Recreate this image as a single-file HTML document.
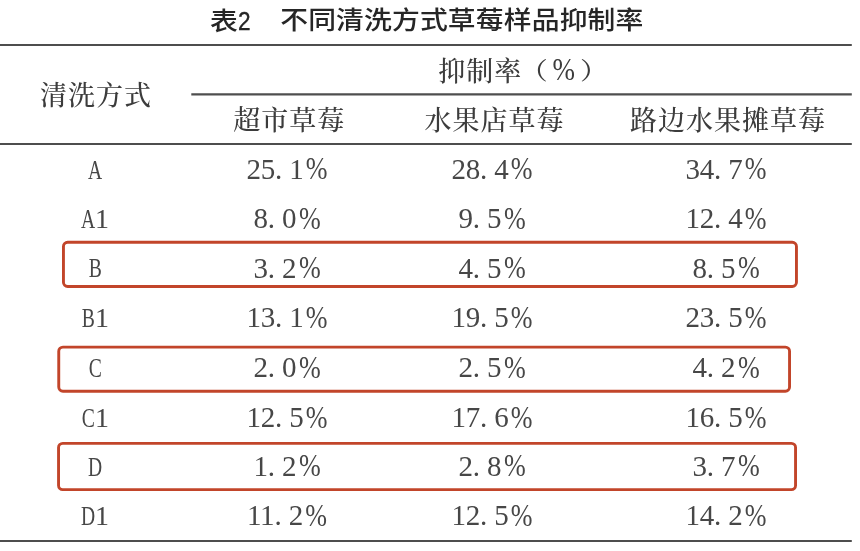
<!DOCTYPE html>
<html lang="zh-CN">
<head>
<meta charset="utf-8">
<title>表2 不同清洗方式草莓样品抑制率</title>
<style>
html,body{margin:0;padding:0;background:#fff;}
body{width:860px;height:551px;position:relative;overflow:hidden;
  font-family:"Liberation Serif","Noto Serif CJK SC",serif;color:#444;}
.title{position:absolute;left:0;top:0;white-space:nowrap;
  font-family:"Liberation Sans","Noto Sans CJK SC",sans-serif;font-weight:500;
  font-size:27.8px;letter-spacing:.15px;line-height:40px;color:#262626;transform:scaleY(.91);transform-origin:0 31.5px;}
.title .t1{position:absolute;left:210px;top:.4px;letter-spacing:0;}
.title .t1 b{display:inline-block;font-weight:400;font-size:29px;-webkit-text-stroke:.4px #262626;transform:scaleX(.78);transform-origin:0 50%;margin-left:0;}
.title .t2{position:absolute;left:280.2px;top:.4px;}
.ln{position:absolute;background:#505050;height:2px;}
.h{position:absolute;white-space:nowrap;font-size:27px;letter-spacing:1px;line-height:40px;
  font-weight:500;color:#3c3c3c;transform:translateX(-50%);}
.hl{transform:none;}
.pl,.pr{display:inline-block;font-size:24px;transform:scaleX(1.18);}
.pl{transform-origin:100% 50%;}
.pr{transform-origin:0 50%;}
.hp{display:inline-block;transform:scale(1.0,1.16);transform-origin:50% 66%;}
.r{position:absolute;left:0;width:860px;height:50px;font-size:29px;line-height:50px;color:#474747;}
.c{position:absolute;top:0;white-space:nowrap;transform:translateX(-50%);letter-spacing:-.25px;}
.c0{font-size:28px;letter-spacing:0;top:.8px;}
.d{display:inline-block;width:14.25px;text-align:left;letter-spacing:0;}
.p{display:inline-block;position:relative;top:.6px;transform:scale(.9,1.09);transform-origin:100% 66%;letter-spacing:0;}
.L{display:inline-flex;width:14px;justify-content:center;}
.L i{display:block;font-style:normal;font-size:28px;transform:scaleX(.7);}
.boxes{position:absolute;left:0;top:0;pointer-events:none;}
</style>
</head>
<body>
<div class="title"><span class="t1">表<b>2</b></span><span class="t2">不同清洗方式草莓样品抑制率</span></div>
<div class="h" style="left:96px;top:76px">清洗方式</div>
<div class="h hl" style="left:438.2px;top:51.5px">抑制率</div>
<div class="h hl" style="left:523.8px;top:49.5px"><span class="pl">（</span></div>
<div class="h hl" style="left:552.4px;top:51px"><span class="hp">%</span></div>
<div class="h hl" style="left:579.9px;top:49.5px"><span class="pr">）</span></div>
<div class="h" style="left:289.3px;top:101px">超市草莓</div>
<div class="h" style="left:494.5px;top:101px">水果店草莓</div>
<div class="h" style="left:728px;top:101px">路边水果摊草莓</div>

<div class="r" style="top:143.9px">
<span class="c c0" style="left:95px"><span class="L"><i>A</i></span></span>
<span class="c" style="left:287px">25<span class="d">.</span>1<span class="p">%</span></span>
<span class="c" style="left:492px">28<span class="d">.</span>4<span class="p">%</span></span>
<span class="c" style="left:726px">34<span class="d">.</span>7<span class="p">%</span></span>
</div>
<div class="r" style="top:193.1px">
<span class="c c0" style="left:95px"><span class="L"><i>A</i></span>1</span>
<span class="c" style="left:287px">8<span class="d">.</span>0<span class="p">%</span></span>
<span class="c" style="left:492px">9<span class="d">.</span>5<span class="p">%</span></span>
<span class="c" style="left:726px">12<span class="d">.</span>4<span class="p">%</span></span>
</div>
<div class="r" style="top:242.6px">
<span class="c c0" style="left:95px"><span class="L"><i>B</i></span></span>
<span class="c" style="left:287px">3<span class="d">.</span>2<span class="p">%</span></span>
<span class="c" style="left:492px">4<span class="d">.</span>5<span class="p">%</span></span>
<span class="c" style="left:726px">8<span class="d">.</span>5<span class="p">%</span></span>
</div>
<div class="r" style="top:292.1px">
<span class="c c0" style="left:95px"><span class="L"><i>B</i></span>1</span>
<span class="c" style="left:287px">13<span class="d">.</span>1<span class="p">%</span></span>
<span class="c" style="left:492px">19<span class="d">.</span>5<span class="p">%</span></span>
<span class="c" style="left:726px">23<span class="d">.</span>5<span class="p">%</span></span>
</div>
<div class="r" style="top:342.4px">
<span class="c c0" style="left:95px"><span class="L"><i>C</i></span></span>
<span class="c" style="left:287px">2<span class="d">.</span>0<span class="p">%</span></span>
<span class="c" style="left:492px">2<span class="d">.</span>5<span class="p">%</span></span>
<span class="c" style="left:726px">4<span class="d">.</span>2<span class="p">%</span></span>
</div>
<div class="r" style="top:392.1px">
<span class="c c0" style="left:95px"><span class="L"><i>C</i></span>1</span>
<span class="c" style="left:287px">12<span class="d">.</span>5<span class="p">%</span></span>
<span class="c" style="left:492px">17<span class="d">.</span>6<span class="p">%</span></span>
<span class="c" style="left:726px">16<span class="d">.</span>5<span class="p">%</span></span>
</div>
<div class="r" style="top:440.9px">
<span class="c c0" style="left:95px"><span class="L"><i>D</i></span></span>
<span class="c" style="left:287px">1<span class="d">.</span>2<span class="p">%</span></span>
<span class="c" style="left:492px">2<span class="d">.</span>8<span class="p">%</span></span>
<span class="c" style="left:726px">3<span class="d">.</span>7<span class="p">%</span></span>
</div>
<div class="r" style="top:490.2px">
<span class="c c0" style="left:95px"><span class="L"><i>D</i></span>1</span>
<span class="c" style="left:287px">11<span class="d">.</span>2<span class="p">%</span></span>
<span class="c" style="left:492px">12<span class="d">.</span>5<span class="p">%</span></span>
<span class="c" style="left:726px">14<span class="d">.</span>2<span class="p">%</span></span>
</div>

<svg class="boxes" width="860" height="551" viewBox="0 0 860 551" fill="none" stroke="#c2452a" stroke-width="2.9">
<rect x="63.45" y="242.25" width="733.00" height="44.30" rx="4.2" ry="4.2"/>
<rect x="58.75" y="347.15" width="730.80" height="44.10" rx="4.2" ry="4.2"/>
<rect x="58.55" y="443.35" width="737.00" height="46.30" rx="4.2" ry="4.2"/>
<g stroke="#4e4e4e" stroke-width="2.1">
<line x1="0.0" y1="45.05" x2="851.8" y2="45.05"/>
<line x1="191.3" y1="94.40" x2="851.8" y2="94.40"/>
<line x1="0.0" y1="144.05" x2="851.8" y2="144.05"/>
<line x1="0.0" y1="541.00" x2="851.8" y2="541.00"/>
</g>
</svg>
</body>
</html>
